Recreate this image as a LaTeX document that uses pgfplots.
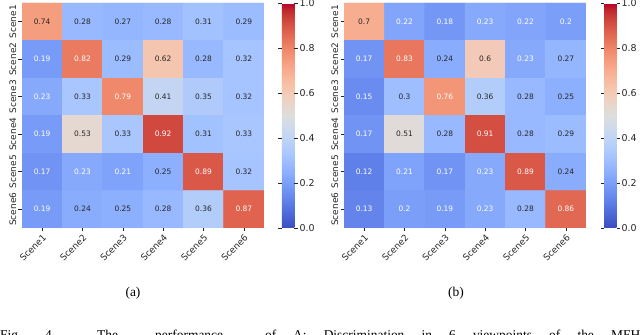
\documentclass[border=0pt]{standalone}
\usepackage{pgfplots}
\pgfplotsset{compat=1.18}
\usepackage{pgfplotstable}
\usepackage{fontspec}
\setmainfont{DejaVu Sans}
\newfontfamily\capfont{Liberation Serif}
\definecolor{txtdark}{RGB}{38,38,38}

% x = column (0..5), y = 5 - row index, v = value
\pgfplotstableread{
x y v
0 5 0.74
1 5 0.28
2 5 0.27
3 5 0.28
4 5 0.31
5 5 0.29
0 4 0.19
1 4 0.82
2 4 0.29
3 4 0.62
4 4 0.28
5 4 0.32
0 3 0.23
1 3 0.33
2 3 0.79
3 3 0.41
4 3 0.35
5 3 0.32
0 2 0.19
1 2 0.53
2 2 0.33
3 2 0.92
4 2 0.31
5 2 0.33
0 1 0.17
1 1 0.23
2 1 0.21
3 1 0.25
4 1 0.89
5 1 0.32
0 0 0.19
1 0 0.24
2 0 0.25
3 0 0.28
4 0 0.36
5 0 0.87
}\tableA

\pgfplotstableread{
x y v
0 5 0.7
1 5 0.22
2 5 0.18
3 5 0.23
4 5 0.22
5 5 0.2
0 4 0.17
1 4 0.83
2 4 0.24
3 4 0.6
4 4 0.23
5 4 0.27
0 3 0.15
1 3 0.3
2 3 0.76
3 3 0.36
4 3 0.28
5 3 0.25
0 2 0.17
1 2 0.51
2 2 0.28
3 2 0.91
4 2 0.28
5 2 0.29
0 1 0.12
1 1 0.21
2 1 0.17
3 1 0.23
4 1 0.89
5 1 0.24
0 0 0.13
1 0 0.2
2 0 0.19
3 0 0.23
4 0 0.28
5 0 0.86
}\tableB

\pgfplotsset{
  colormap={coolwarm}{
    rgb255=(59,76,192) rgb255=(68,90,204) rgb255=(77,104,215) rgb255=(87,117,225)
    rgb255=(98,130,234) rgb255=(108,142,241) rgb255=(119,154,247) rgb255=(130,165,251)
    rgb255=(141,176,254) rgb255=(152,185,255) rgb255=(163,194,255) rgb255=(174,201,253)
    rgb255=(184,208,249) rgb255=(194,213,244) rgb255=(204,217,238) rgb255=(213,219,230)
    rgb255=(221,221,221) rgb255=(229,216,209) rgb255=(236,211,197) rgb255=(241,204,185)
    rgb255=(245,196,173) rgb255=(247,187,160) rgb255=(247,177,148) rgb255=(247,166,135)
    rgb255=(244,154,123) rgb255=(241,141,111) rgb255=(236,127,99) rgb255=(229,112,88)
    rgb255=(222,96,77) rgb255=(213,80,66) rgb255=(203,62,56) rgb255=(192,40,47)
    rgb255=(180,4,38)
  },
  hm/.style={
    scale only axis, width=242bp, height=225bp,
    xmin=-0.5, xmax=5.5, ymin=-0.5, ymax=5.5,
    axis line style={draw=none},
    xtick={0,...,5}, ytick={0,...,5},
    xticklabels={Scene1,Scene2,Scene3,Scene4,Scene5,Scene6},
    yticklabels={Scene6,Scene5,Scene4,Scene3,Scene2,Scene1},
    xtick pos=bottom, ytick pos=left,
    tick align=outside, major tick length=3.5bp,
    tick style={txtdark, line width=0.6bp},
    xticklabel style={rotate=45, anchor=north east, font=\fontsize{9}{10}\selectfont, text=txtdark, inner sep=1.5bp},
    yticklabel style={rotate=90, anchor=south, font=\fontsize{9}{10}\selectfont, text=txtdark, inner sep=2bp},
    colormap name=coolwarm,
    point meta min=0, point meta max=1,
    colorbar,
    colorbar style={
      at={(parent axis.north east)}, anchor=north west, xshift=9.5bp,
      scale only axis, width=12.5bp, height=225bp,
      axis line style={draw=none},
      ytick={0,0.2,0.4,0.6,0.8,1},
      yticklabel style={font=\fontsize{9.5}{10}\selectfont, text=txtdark, inner sep=1.5bp,
        /pgf/number format/.cd, fixed, fixed zerofill, precision=1, assume math mode=true},
      tick align=outside, major tick length=3.5bp,
      tick style={txtdark, line width=0.6bp},
    },
  },
  lbl/.style={only marks, mark=none, point meta=explicit symbolic,
    nodes near coords, nodes near coords align={center},
    every node near coord/.append style={anchor=center, font=\fontsize{7.5}{8}\selectfont, text=#1}},
}

\begin{document}
\begin{tikzpicture}
\useasboundingbox (0,0) rectangle (640bp,335bp);
\clip (0,0) rectangle (640bp,335bp);

\begin{axis}[hm, at={(22bp,107bp)}, anchor=south west]
  \addplot[matrix plot*, mesh/cols=6, point meta=explicit] table[x=x, y=y, meta=v] {\tableA};
  \addplot[lbl=txtdark, restrict expr to domain={or(\thisrow{v}<0.235,\thisrow{v}>0.75)}{0:0}] table[x=x, y=y, meta=v] {\tableA};
  \addplot[lbl=white, restrict expr to domain={or(\thisrow{v}<0.235,\thisrow{v}>0.75)}{1:1}] table[x=x, y=y, meta=v] {\tableA};
\end{axis}

\begin{axis}[hm, at={(344bp,107bp)}, anchor=south west]
  \addplot[matrix plot*, mesh/cols=6, point meta=explicit] table[x=x, y=y, meta=v] {\tableB};
  \addplot[lbl=txtdark, restrict expr to domain={or(\thisrow{v}<0.235,\thisrow{v}>0.75)}{0:0}] table[x=x, y=y, meta=v] {\tableB};
  \addplot[lbl=white, restrict expr to domain={or(\thisrow{v}<0.235,\thisrow{v}>0.75)}{1:1}] table[x=x, y=y, meta=v] {\tableB};
\end{axis}

\node[font=\capfont\fontsize{13.5}{14}\selectfont] at (133bp,42bp) {(a)};
\node[font=\capfont\fontsize{13.5}{14}\selectfont] at (456bp,42bp) {(b)};
\begin{scope}[every node/.style={anchor=base west, inner sep=0pt, font=\capfont\fontsize{13.5}{14}\selectfont}]
\node at (0bp,-4.5bp) {Fig.};
\node at (45bp,-4.5bp) {4.};
\node at (97bp,-4.5bp) {The};
\node at (155bp,-4.5bp) {performance};
\node at (265bp,-4.5bp) {of};
\node at (293bp,-4.5bp) {\makebox[347bp][s]{A: Discrimination in 6 viewpoints of the MFH}};
\end{scope}
\end{tikzpicture}
\end{document}
